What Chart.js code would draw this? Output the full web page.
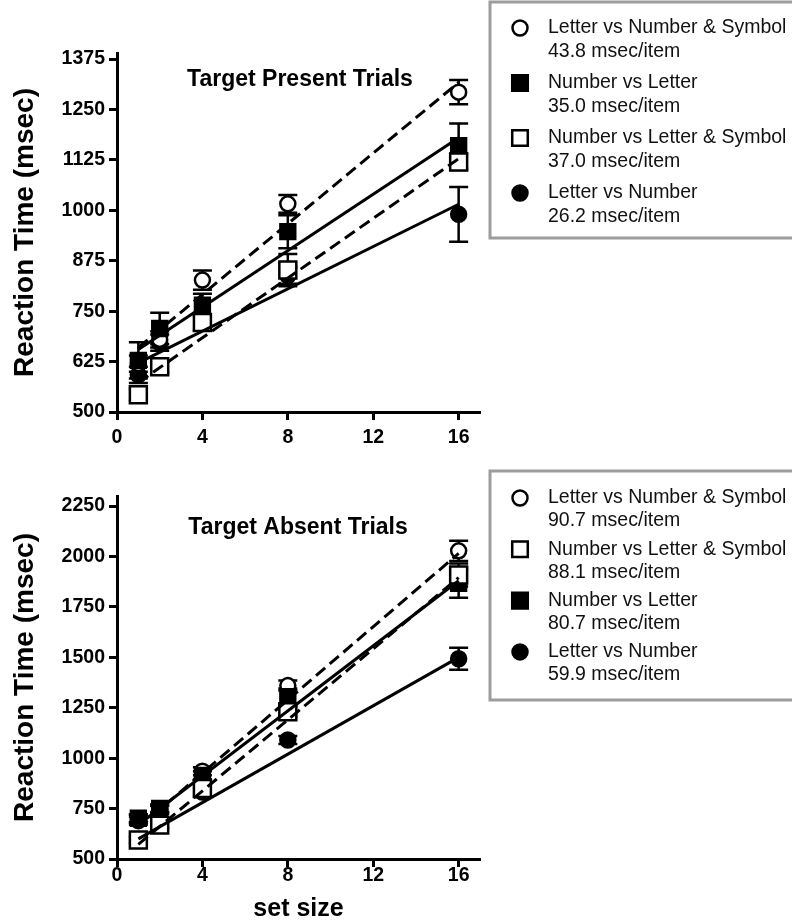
<!DOCTYPE html>
<html>
<head>
<meta charset="utf-8">
<title>Visual search reaction times</title>
<script src="https://cdn.jsdelivr.net/npm/chart.js@4.4.1/dist/chart.umd.min.js"></script>
<style>
  html, body { margin: 0; padding: 0; background: #fff; }
  #page { position: relative; width: 792px; height: 924px; overflow: hidden; }
  .panel { position: absolute; left: 0; width: 792px; height: 462px; }
  #presentPanel { top: 0; }
  #absentPanel { top: 462px; }
</style>
</head>
<body>
<div id="page">
  <div class="panel" id="presentPanel"><canvas id="presentChart" width="792" height="462"></canvas></div>
  <div class="panel" id="absentPanel"><canvas id="absentChart" width="792" height="462"></canvas></div>
</div>
<script>
// ---- Data ----
const setSizes = [1, 2, 4, 8, 16];
const xTicks = [0, 4, 8, 12, 16];
const presentYTicks = [500, 625, 750, 875, 1000, 1125, 1250, 1375];
const absentYTicks = [500, 750, 1000, 1250, 1500, 1750, 2000, 2250];

const seriesNames = {
    letterNumSym: 'Letter vs Number & Symbol',
    numLetter: 'Number vs Letter',
    numLetterSym: 'Number vs Letter & Symbol',
    letterNum: 'Letter vs Number'
};

// Target present trials: mean RT (msec) and error bar half-length
const presentLetterNumSym = [620, 680, 827, 1016, 1293];
const presentLetterNumSymErr = [20, 20, 24, 22, 30];
const presentNumLetter = [628, 707, 765, 947, 1160];
const presentNumLetterErr = [45, 39, 28, 41, 55];
const presentNumLetterSym = [543, 612, 722, 852, 1120];
const presentNumLetterSymErr = [15, 15, 20, 40, 20];
const presentLetterNum = [592, 672, 722, 838, 990];
const presentLetterNumErr = [20, 20, 20, 20, 68];

// Target absent trials
const absentLetterNumSym = [690, 745, 935, 1360, 2028];
const absentLetterNumSymErr = [20, 20, 20, 25, 50];
const absentNumLetterSym = [594, 668, 850, 1230, 1908];
const absentNumLetterSymErr = [15, 15, 20, 25, 57];
const absentNumLetter = [702, 751, 915, 1305, 1867];
const absentNumLetterErr = [20, 20, 20, 40, 72];
const absentLetterNum = [700, 748, 832, 1090, 1493];
const absentLetterNumErr = [20, 15, 20, 20, 54];

// Fitted lines: RT at set size 1 and at set size 16
const fitSetSizes = [1, 16];
const presentLetterNumSymFit = [660, 1317];
const presentNumLetterFit = [655, 1180];
const presentNumLetterSymFit = [573, 1128];
const presentLetterNumFit = [622, 1015];
const absentLetterNumSymFit = [654, 2015];
const absentNumLetterSymFit = [573, 1895];
const absentNumLetterFit = [670, 1880];
const absentLetterNumFit = [600, 1500];

// Slopes shown in the legends
const presentSlopes = { letterNumSym: '43.8', numLetter: '35.0', numLetterSym: '37.0', letterNum: '26.2' };
const absentSlopes = { letterNumSym: '90.7', numLetterSym: '88.1', numLetter: '80.7', letterNum: '59.9' };

// ---- Styles ----
const FONT = '"Liberation Sans", Arial, Helvetica, sans-serif';
const X_MAX = 17;

const markerStyles = {
    letterNumSym: { shape: 'circle', fill: '#fff', radius: 7.5 },
    numLetter: { shape: 'rect', fill: '#000', radius: 10.5 },
    numLetterSym: { shape: 'rect', fill: '#fff', radius: 12 },
    letterNum: { shape: 'circle', fill: '#000', radius: 7.5 }
};
const fitDash = {
    letterNumSym: [12, 6],
    numLetter: [],
    numLetterSym: [12, 6],
    letterNum: []
};

function toPoints(xs, ys) {
    return xs.map((x, i) => ({ x: x, y: ys[i] }));
}

function pointDataset(key, values, errors) {
    const st = markerStyles[key];
    return {
        label: seriesNames[key],
        data: toPoints(setSizes, values),
        errors: errors,
        showLine: false,
        pointStyle: st.shape,
        pointRadius: st.radius,
        pointBackgroundColor: st.fill,
        pointBorderColor: '#000',
        pointBorderWidth: 2.5
    };
}

function fitDataset(key, ends) {
    return {
        label: seriesNames[key] + ' fit',
        data: toPoints(fitSetSizes, ends),
        showLine: true,
        pointRadius: 0,
        borderColor: '#000',
        borderWidth: 3,
        borderDash: fitDash[key],
        fill: false
    };
}

// Error bars drawn under the markers
const errorBarPlugin = {
    id: 'errorBars',
    beforeDatasetsDraw(chart) {
        const { ctx, scales: { x, y } } = chart;
        const capHalf = 9.5;
        ctx.save();
        ctx.strokeStyle = '#000';
        ctx.lineWidth = 2.5;
        chart.data.datasets.forEach(ds => {
            if (!ds.errors) return;
            ds.data.forEach((pt, i) => {
                const e = ds.errors[i];
                const px = x.getPixelForValue(pt.x);
                const top = y.getPixelForValue(pt.y + e);
                const bot = y.getPixelForValue(pt.y - e);
                ctx.beginPath();
                ctx.moveTo(px, top); ctx.lineTo(px, bot);
                ctx.moveTo(px - capHalf, top); ctx.lineTo(px + capHalf, top);
                ctx.moveTo(px - capHalf, bot); ctx.lineTo(px + capHalf, bot);
                ctx.stroke();
            });
        });
        ctx.restore();
    }
};

function drawMarker(ctx, st, cx, cy) {
    ctx.beginPath();
    if (st.shape === 'circle') {
        ctx.arc(cx, cy, st.radius, 0, Math.PI * 2);
    } else {
        const half = st.radius * Math.SQRT1_2;
        ctx.rect(cx - half, cy - half, half * 2, half * 2);
    }
    ctx.fillStyle = st.fill;
    ctx.fill();
    ctx.lineWidth = 2.5;
    ctx.strokeStyle = '#000';
    ctx.stroke();
}

// Boxed legend to the right of the plot
const boxLegendPlugin = {
    id: 'boxLegend',
    afterDraw(chart, args, opts) {
        if (!opts.items) return;
        const ctx = chart.ctx;
        ctx.save();
        ctx.strokeStyle = '#9c9c9c';
        ctx.lineWidth = 3;
        ctx.strokeRect(opts.left, opts.top, opts.width, opts.height);
        ctx.font = '19.5px ' + FONT;
        ctx.textAlign = 'left';
        ctx.textBaseline = 'middle';
        opts.items.forEach((item, i) => {
            const rowY = opts.firstRow + i * opts.rowStep;
            const legendMark = { shape: item.style.shape, fill: item.style.fill, radius: item.style.shape === 'circle' ? 7.5 : 11 };
            drawMarker(ctx, legendMark, opts.markerX, rowY);
            ctx.fillStyle = '#111';
            item.lines.forEach((line, j) => {
                ctx.fillText(line, opts.textX, rowY + j * opts.lineStep);
            });
        });
        ctx.restore();
    }
};

// Panel heading placed inside the plot
const panelLabelPlugin = {
    id: 'panelLabel',
    afterDraw(chart, args, opts) {
        if (!opts.text) return;
        const { ctx, scales: { x, y } } = chart;
        ctx.save();
        ctx.font = 'bold 23px ' + FONT;
        ctx.fillStyle = '#000';
        ctx.textAlign = 'center';
        ctx.textBaseline = 'middle';
        ctx.fillText(opts.text, x.getPixelForValue(opts.at[0]), y.getPixelForValue(opts.at[1]));
        ctx.restore();
    }
};

function legendItems(order, slopes) {
    return order.map(key => ({
        style: markerStyles[key],
        lines: [seriesNames[key], slopes[key] + ' msec/item']
    }));
}

function buildPanel(canvasId, cfg) {
    const ctx = document.getElementById(canvasId).getContext('2d');
    const axisGrid = {
        display: true,
        drawOnChartArea: false,
        drawTicks: true,
        tickLength: 8,
        tickWidth: 3,
        tickColor: '#000'
    };
    const tickFont = { family: FONT, size: 19.5, weight: 'bold' };
    return new Chart(ctx, {
        type: 'scatter',
        data: { datasets: cfg.datasets },
        plugins: [errorBarPlugin, boxLegendPlugin, panelLabelPlugin],
        options: {
            responsive: false,
            animation: false,
            devicePixelRatio: 1,
            events: [],
            layout: { padding: { top: cfg.plotTop, right: 312, bottom: 0, left: 0 } },
            plugins: {
                legend: { display: false },
                tooltip: { enabled: false },
                boxLegend: cfg.legend,
                panelLabel: cfg.label
            },
            scales: {
                x: {
                    type: 'linear',
                    min: 0,
                    max: X_MAX,
                    afterBuildTicks: s => { s.ticks = xTicks.map(v => ({ value: v })); },
                    afterFit: s => { s.height = cfg.xAxisHeight; },
                    border: { display: true, color: '#000', width: 3 },
                    grid: axisGrid,
                    ticks: { color: '#000', padding: cfg.xTickPad, font: tickFont, callback: v => String(v) },
                    title: {
                        display: !!cfg.xTitle,
                        text: cfg.xTitle || '',
                        color: '#000',
                        padding: { top: 2, bottom: 0 },
                        font: { family: FONT, size: 25, weight: 'bold' }
                    }
                },
                y: {
                    min: cfg.yTicks[0],
                    max: cfg.yMax,
                    afterBuildTicks: s => { s.ticks = cfg.yTicks.map(v => ({ value: v })); },
                    afterFit: s => { s.width = 117; },
                    border: { display: true, color: '#000', width: 3 },
                    grid: axisGrid,
                    ticks: { color: '#000', padding: 4, font: tickFont, callback: v => String(v) },
                    title: {
                        display: true,
                        text: 'Reaction Time (msec)',
                        color: '#000',
                        padding: { top: 8, bottom: 0 },
                        font: { family: FONT, size: 28, weight: 'bold' }
                    }
                }
            }
        }
    });
}

// ---- Target present panel ----
buildPanel('presentChart', {
    plotTop: 53,
    yMax: 1390,
    xAxisHeight: 50,
    xTickPad: 6,
    yTicks: presentYTicks,
    label: { text: 'Target Present Trials', at: [8.57, 1325] },
    legend: {
        left: 490, top: 2, width: 320, height: 236,
        firstRow: 28, rowStep: 55, lineStep: 24, markerX: 520, textX: 548,
        items: legendItems(['letterNumSym', 'numLetter', 'numLetterSym', 'letterNum'], presentSlopes)
    },
    datasets: [
        fitDataset('letterNumSym', presentLetterNumSymFit),
        fitDataset('numLetter', presentNumLetterFit),
        fitDataset('numLetterSym', presentNumLetterSymFit),
        fitDataset('letterNum', presentLetterNumFit),
        pointDataset('numLetterSym', presentNumLetterSym, presentNumLetterSymErr),
        pointDataset('numLetter', presentNumLetter, presentNumLetterErr),
        pointDataset('letterNumSym', presentLetterNumSym, presentLetterNumSymErr),
        pointDataset('letterNum', presentLetterNum, presentLetterNumErr)
    ]
});

// ---- Target absent panel ----
buildPanel('absentChart', {
    plotTop: 34,
    yMax: 2300,
    xAxisHeight: 65,
    xTickPad: -3,
    xTitle: 'set size',
    yTicks: absentYTicks,
    label: { text: 'Target Absent Trials', at: [8.48, 2141] },
    legend: {
        left: 490, top: 9, width: 320, height: 229,
        firstRow: 36, rowStep: 51.3, lineStep: 23, markerX: 520, textX: 548,
        items: legendItems(['letterNumSym', 'numLetterSym', 'numLetter', 'letterNum'], absentSlopes)
    },
    datasets: [
        fitDataset('letterNumSym', absentLetterNumSymFit),
        fitDataset('numLetterSym', absentNumLetterSymFit),
        fitDataset('numLetter', absentNumLetterFit),
        fitDataset('letterNum', absentLetterNumFit),
        pointDataset('numLetterSym', absentNumLetterSym, absentNumLetterSymErr),
        pointDataset('numLetter', absentNumLetter, absentNumLetterErr),
        pointDataset('letterNumSym', absentLetterNumSym, absentLetterNumSymErr),
        pointDataset('letterNum', absentLetterNum, absentLetterNumErr)
    ]
});
</script>
</body>
</html>
